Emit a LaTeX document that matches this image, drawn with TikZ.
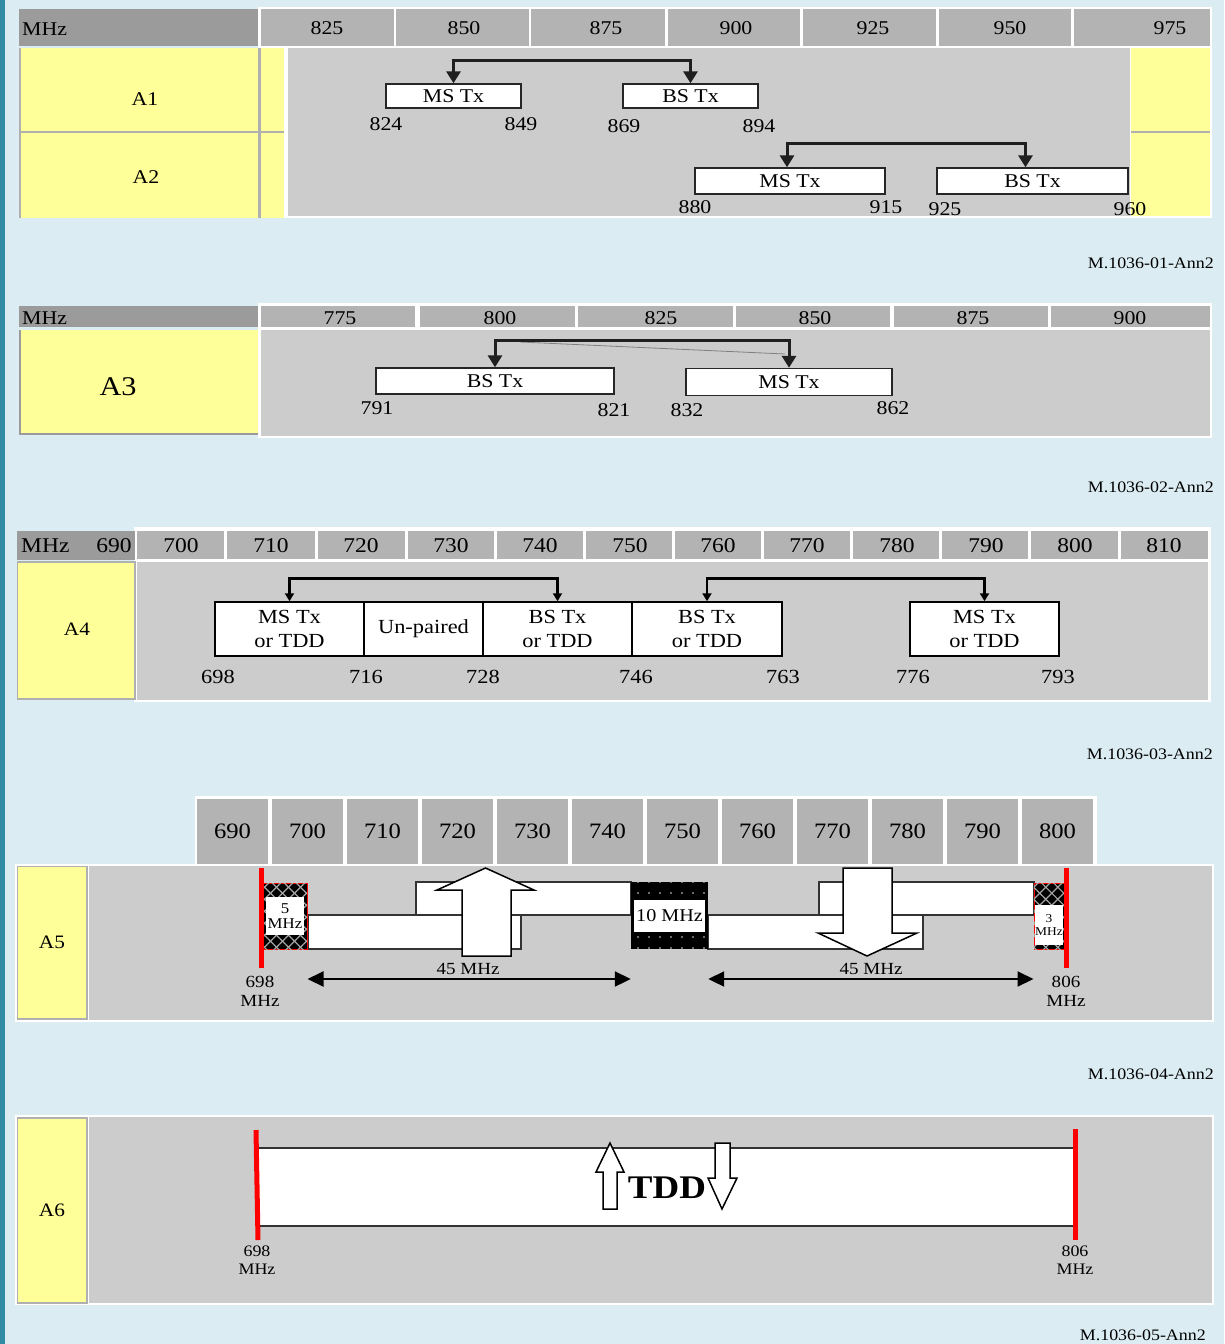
\documentclass[tikz,border=0pt]{standalone}
\usepackage{fontspec}
\setmainfont{Liberation Serif}[FakeStretch=1.12]
\usetikzlibrary{arrows.meta,patterns.meta,calc}
\definecolor{bgblue}{HTML}{DBEDF3}
\definecolor{stripc}{HTML}{2F8CA2}
\definecolor{hdark}{HTML}{9B9B9B}
\definecolor{hcellc}{HTML}{B3B3B3}
\definecolor{garea}{HTML}{CCCCCC}
\definecolor{yel}{HTML}{FFFF99}
\definecolor{glinec}{HTML}{B0B0B0}
\definecolor{redl}{HTML}{FF0000}
\newcommand\fsz[2]{\fontsize{#1pt}{#2pt}\selectfont}
\begin{document}
\begin{tikzpicture}[x=1pt,y=-1pt,
  lbl/.style={inner sep=0pt},
  txbox/.style={draw=black!85, line width=1.4pt, fill=white, inner sep=0pt},
  conn/.style={line width=3pt, black!88, {Triangle[length=12pt,width=14pt]}-{Triangle[length=12pt,width=14pt]}},
  connb/.style={line width=2.6pt, black, {Triangle[length=8pt,width=9pt]}-{Triangle[length=8pt,width=9pt]}},
  dbl/.style={line width=2pt, black, {Triangle[length=16pt,width=15pt]}-{Triangle[length=16pt,width=15pt]}},
  band/.style={fill=white, draw=black!80, line width=1.5pt},
  hollow/.style={fill=white, draw=black, line width=1.5pt, line join=miter},
  hatch/.style={draw=redl, line width=1pt, fill=black, inner sep=0pt,
    postaction={pattern={Lines[angle=45,distance=8.5pt,line width=1.2pt]}, pattern color=gray!70},
    postaction={pattern={Lines[angle=-45,distance=8.5pt,line width=1.2pt]}, pattern color=gray!70}},
  dotbox/.style={fill=black, inner sep=0pt,
    postaction={pattern={Dots[distance=11pt,radius=0.9pt]}, pattern color=white!70!gray}},
  ybox/.style={fill=yel, draw=glinec, line width=1.5pt},
  hcell5/.style={fill=hcellc, inner sep=0pt, font=\fsz{22}{22}}
]
\useasboundingbox (0,0) rectangle (1224,1344);
\fill[bgblue] (0,0) rectangle (1224,1344);
\fill[stripc] (0,0) rectangle (4.5,1344);

% ================= Panel 1 (A1/A2) =================
\fill[white] (258,7) rectangle (1212,218);
\fill[hdark] (19,9) rectangle (258,46);
\node[lbl, anchor=west, font=\fsz{19.5}{19.5}] (p1mhz) at (22,29) {MHz};
\foreach \a/\b/\t/\lx [count=\i] in {261/394/825/327, 396/529/850/464, 531/665/875/606, 668/800/900/736, 803/936/925/873, 939/1071/950/1010, 1074/1210/975/1170} {
  \fill[hcellc] (\a,9) rectangle (\b,46);
  \node[lbl, font=\fsz{19.5}{19.5}] (p1h\i) at (\lx,28.5) {\t};
}
\fill[yel] (19,48) rectangle (258,218);
\fill[yel] (261,48) rectangle (284,218);
\fill[garea] (288,48) rectangle (1130,216);
\fill[yel] (1131,48) rectangle (1210,216);
\draw[glinec, line width=2.5pt] (20,48) -- (20,218);
\draw[glinec, line width=3pt] (259.5,48) -- (259.5,218);
\draw[glinec, line width=2pt] (19,132) -- (284,132);
\draw[glinec, line width=2pt] (1131,132) -- (1210,132);
\node[lbl, font=\fsz{19.5}{19.5}] (a1) at (145,99.5) {A1};
\node[lbl, font=\fsz{19.5}{19.5}] (a2) at (146,177.5) {A2};

\node[txbox, minimum width=135, minimum height=24, font=\fsz{19.5}{19.5}] (ms1) at (453.5,96) {MS Tx};
\node[txbox, minimum width=135, minimum height=24, font=\fsz{19.5}{19.5}] (bs1) at (690.5,96) {BS Tx};
\node[txbox, minimum width=190, minimum height=26, font=\fsz{19.5}{19.5}] (ms2) at (790,181) {MS Tx};
\node[txbox, minimum width=191, minimum height=26, font=\fsz{19.5}{19.5}] (bs2) at (1032.5,181) {BS Tx};
\draw[conn] (ms1.north) -- ++(0,-23) -| (bs1.north);
\draw[conn] ($(ms2.north)+(-3,0)$) -- ++(0,-24) -| ($(bs2.north)+(-7,0)$);
\foreach \x/\y/\t [count=\i] in {386/124.5/824, 521/124.5/849, 624/126.5/869, 759/126.5/894, 695/207.5/880, 886/207.5/915, 945/209.5/925, 1130/209.5/960} {
  \node[lbl, font=\fsz{19.5}{19.5}] (p1n\i) at (\x,\y) {\t};
}
\node[lbl, anchor=east, font=\fsz{16}{16}] (ann1) at (1214,263) {M.1036-01-Ann2};

% ================= Panel 2 (A3) =================
\fill[white] (258,303) rectangle (1212,438);
\fill[hdark] (19,306) rectangle (258,327);
\node[lbl, anchor=west, font=\fsz{19.5}{19.5}] (p2mhz) at (22,318) {MHz};
\foreach \a/\b/\t/\lx [count=\i] in {261/415/775/340, 420/575/800/500, 578/733/825/661, 736/890/850/815, 894/1048/875/973, 1051/1210/900/1130} {
  \fill[hcellc] (\a,306) rectangle (\b,327);
  \node[lbl, font=\fsz{19.5}{19.5}] (p2h\i) at (\lx,318.5) {\t};
}
\fill[yel] (19,330) rectangle (258,434);
\draw[hdark, line width=2pt] (20,330) -- (20,434) -- (258,434);
\fill[garea] (261,330) rectangle (1210,436);
\node[lbl, font=\fsz{27}{27}] (a3) at (118,386.5) {A3};
\node[txbox, minimum width=238, minimum height=26, font=\fsz{19.5}{19.5}] (bs3) at (495,381) {BS Tx};
\node[txbox, minimum width=206, minimum height=27, font=\fsz{19.5}{19.5}] (ms3) at (789,382) {MS Tx};
\draw[gray, line width=0.8pt] (520,342) -- (785,354);
\draw[conn] (bs3.north) -- ++(0,-27) -| (ms3.north);
\foreach \x/\y/\t [count=\i] in {377/408.5/791, 614/410.5/821, 687/410.5/832, 893/408.5/862} {
  \node[lbl, font=\fsz{19.5}{19.5}] (p2n\i) at (\x,\y) {\t};
}
\node[lbl, anchor=east, font=\fsz{16}{16}] (ann2) at (1214,487) {M.1036-02-Ann2};

% ================= Panel 3 (A4) =================
\fill[white] (134,527) rectangle (1211,702);
\fill[hdark] (17,531) rectangle (135,560);
\node[lbl, anchor=west, font=\fsz{21}{21}] (p3mhz) at (21,546) {MHz};
\node[lbl, font=\fsz{21}{21}] (p3h0) at (114,546) {690};
\foreach \a/\b/\t/\lx [count=\i] in {137/224/700/181, 227/315/710/271, 318/405/720/361, 408/494/730/451, 497/583/740/540, 586/672/750/630, 675/761/760/718, 764/850/770/807, 853/939/780/897, 942/1028/790/986, 1031/1118/800/1075, 1121/1208/810/1164} {
  \fill[hcellc] (\a,531) rectangle (\b,559);
  \node[lbl, font=\fsz{21}{21}] (p3h\i) at (\lx,546) {\t};
}
\draw[ybox] (17.5,562) rectangle (135,699);
\fill[garea] (137,562) rectangle (1208,700);
\node[lbl, font=\fsz{19}{19}] (a4) at (77,629.5) {A4};
\foreach \n/\cx/\w/\t in {b41/289.5/149/{MS Tx\\or TDD}, b42/423.5/119/{Un-paired}, b43/557.5/149/{BS Tx\\or TDD}, b44/707/150/{BS Tx\\or TDD}, b45/984.5/149/{MS Tx\\or TDD}} {
  \node[txbox, line width=1.5pt, draw=black, minimum width=\w, minimum height=54, align=center, font=\fsz{20}{24}] (\n) at (\cx,629) {\t};
}
\draw[connb] (b41.north) -- ++(0,-23) -| (b43.north);
\draw[connb] (b44.north) -- ++(0,-23) -| (b45.north);
\foreach \x/\t [count=\i] in {218/698, 366/716, 483/728, 636/746, 783/763, 913/776, 1058/793} {
  \node[lbl, font=\fsz{20}{20}] (p3n\i) at (\x,676.5) {\t};
}
\node[lbl, anchor=east, font=\fsz{16}{16}] (ann3) at (1213,754) {M.1036-03-Ann2};

% ================= Panel 4 (A5) =================
\fill[white] (195,796) rectangle (1097,866);
\foreach \t [count=\i from 0] in {690,700,...,800} {
  \node[hcell5, minimum width=71, minimum height=65] (h5\i) at ({232.5+75*\i},831.5) {\t};
}
\fill[white] (15,864) rectangle (1214,1022);
\draw[ybox] (17.5,866.5) rectangle (87,1019);
\fill[garea] (89,866) rectangle (1212,1020);
\node[lbl, font=\fsz{19}{19}] (a5) at (52,942.5) {A5};

\draw[band] (308,915) rectangle (521,949);
\draw[band] (416,882) rectangle (631,915);
\draw[band] (708,915) rectangle (923,949);
\draw[band] (819,882) rectangle (1034,915);

\node[hatch, minimum width=45, minimum height=66] (hb1) at (284.5,916) {};
\node[fill=white, inner sep=0pt, minimum width=38, minimum height=38, align=center, font=\fsz{15}{15}] (l5) at (285,916) {5\\MHz};
\node[hatch, minimum width=30, minimum height=66] (hb2) at (1049,916) {};
\node[fill=white, inner sep=0pt, minimum width=28, minimum height=40, align=center, font=\fsz{12}{13}] (l3) at (1049,925) {3\\MHz};
\node[dotbox, minimum width=77, minimum height=67] (b10) at (669.5,915.5) {};
\node[fill=white, inner sep=0pt, minimum width=71, minimum height=32, font=\fsz{18}{18}] (l10) at (669.5,916) {10 MHz};

\draw[hollow] (462,956) -- (462,890) -- (437,890) -- (485.5,868) -- (534,890) -- (511,890) -- (511,956) -- cycle;
\draw[hollow] (843,868) -- (843,933) -- (818,933) -- (867,956) -- (917,933) -- (892,933) -- (892,868) -- cycle;

\draw[redl, line width=5pt] (261,868) -- (261,968);
\draw[redl, line width=5pt] (1066,868) -- (1066,968);

\coordinate (y45) at (0,979);
\draw[dbl] (hb1.east |- y45) -- (b10.west |- y45);
\draw[dbl] (b10.east |- y45) -- (hb2.west |- y45);
\node[lbl, font=\fsz{17}{17}] (m45a) at (468,969) {45 MHz};
\node[lbl, font=\fsz{17}{17}] (m45b) at (871,969) {45 MHz};
\node[lbl, align=center, font=\fsz{17}{19}] (f698a) at (260,991) {698\\MHz};
\node[lbl, align=center, font=\fsz{17}{19}] (f806a) at (1066,991) {806\\MHz};
\node[lbl, anchor=east, font=\fsz{16}{16}] (ann4) at (1214,1074) {M.1036-04-Ann2};

% ================= Panel 5 (A6) =================
\fill[white] (15,1115) rectangle (1214,1305);
\draw[ybox] (17.5,1118) rectangle (87,1303);
\fill[garea] (89,1117) rectangle (1212,1303);
\node[lbl, font=\fsz{19}{19}] (a6) at (52,1210.5) {A6};
\fill[white] (257,1148) rectangle (1075,1226);
\draw[black!80, line width=1.5pt] (257,1148) -- (1075,1148);
\draw[black!80, line width=1.5pt] (257,1226) -- (1075,1226);
\draw[redl, line width=5pt] (256,1130) -- (258,1240);
\draw[redl, line width=5pt] (1075,1129) -- (1075,1240);
\draw[hollow] (603,1209) -- (603,1172) -- (596,1172) -- (610,1143) -- (624,1172) -- (617,1172) -- (617,1209) -- cycle;
\draw[hollow] (715,1143) -- (715,1178) -- (708,1178) -- (722,1209) -- (737,1178) -- (730,1178) -- (730,1143) -- cycle;
\node[lbl, font=\fsz{33}{33}\bfseries] (tdd) at (667,1188) {TDD};
\node[lbl, align=center, font=\fsz{16}{18}] (f698b) at (257,1260) {698\\MHz};
\node[lbl, align=center, font=\fsz{16}{18}] (f806b) at (1075,1260) {806\\MHz};
\node[lbl, anchor=east, font=\fsz{16}{16}] (ann5) at (1206,1335) {M.1036-05-Ann2};
\end{tikzpicture}
\end{document}
